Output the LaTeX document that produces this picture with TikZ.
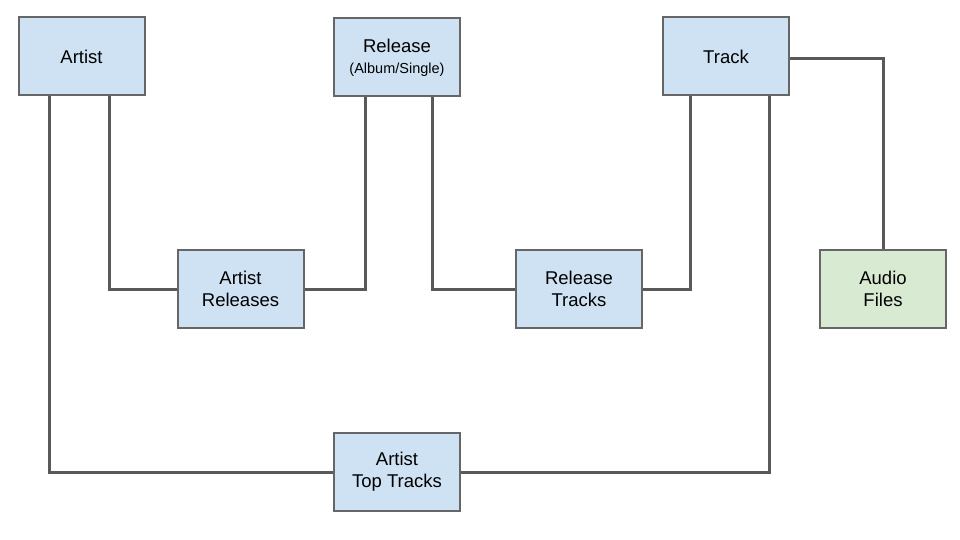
\documentclass[tikz,border=0pt]{standalone}
\usepackage{fontspec}
\setmainfont{Liberation Sans}
\definecolor{boxblue}{HTML}{CFE2F3}
\definecolor{boxgreen}{HTML}{D9EAD3}
\definecolor{boxedge}{HTML}{666666}
\definecolor{linkcol}{HTML}{595959}
\begin{document}
\begin{tikzpicture}[x=1pt,y=-1pt,
  ent/.style={draw=boxedge,line width=2pt,fill=boxblue,minimum width=126pt,minimum height=78pt,inner sep=0pt,align=center,font=\fontsize{18.5}{22}\selectfont},
  green/.style={fill=boxgreen},
  link/.style={draw=linkcol,line width=3pt}]
\useasboundingbox (0,0) rectangle (960,540);
\node[ent] (artist) at (81.5,56.5) {Artist};
\node[ent] (release) at (397,57.5) {Release\\[-1pt]{\fontsize{14.5}{16}\selectfont (Album/Single)}};
\node[ent] (track) at (726,56.5) {Track};
\node[ent] (ar) at (240.5,289) {Artist\\Releases};
\node[ent] (rt) at (579,289) {Release\\Tracks};
\node[ent,green] (audio) at (883,289) {Audio\\Files};
\node[ent] (att) at (397,472) {Artist\\Top Tracks};
\draw[link] (artist.south -| 49,0) |- (att.west);
\draw[link] (artist.south -| 109,0) |- (ar.west);
\draw[link] (ar.east) -| (release.south -| 365,0);
\draw[link] (release.south -| 432,0) |- (rt.west);
\draw[link] (rt.east) -| (track.south -| 690,0);
\draw[link] (track.south -| 769,0) |- (att.east);
\draw[link] (track.east |- 0,59) -| (audio.north);
\end{tikzpicture}
\end{document}
